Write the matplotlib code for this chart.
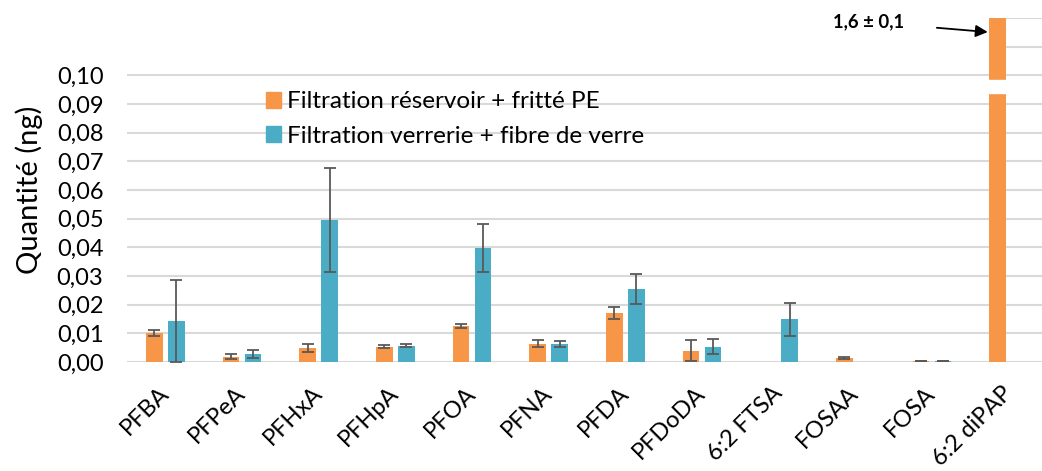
import numpy as np
import matplotlib
matplotlib.use("Agg")
import matplotlib.pyplot as plt
from matplotlib.patches import Patch

plt.rcParams['font.family'] = ['Lato', 'DejaVu Sans']

# data
compounds = ["PFBA", "PFPeA", "PFHxA", "PFHpA", "PFOA", "PFNA", "PFDA",
             "PFDoDA", "6:2 FTSA", "FOSAA", "FOSA", "6:2 diPAP"]
reservoir = [0.0102, 0.0019, 0.0050, 0.0054, 0.0126, 0.0064, 0.0171,
             0.0039, np.nan, 0.0014, 0.0003, 1.6]
reservoir_err = [0.0010, 0.0010, 0.0014, 0.0005, 0.0008, 0.0012, 0.0021,
                 0.0037, np.nan, 0.0005, 0.0001, 0.1]
verrerie = [0.0143, 0.0028, 0.0496, 0.0057, 0.0399, 0.0064, 0.0255,
            0.0054, 0.0149, np.nan, 0.0004, np.nan]
verrerie_err = [0.0144, 0.0013, 0.0181, 0.0006, 0.0084, 0.0011, 0.0053,
                0.0025, 0.0058, np.nan, 0.0001, np.nan]
yticks = [0.00, 0.01, 0.02, 0.03, 0.04, 0.05, 0.06, 0.07, 0.08, 0.09, 0.10]
upper_grid = [0.11, 0.12]
break_lo, break_hi = 0.0937, 0.0983
labels = ["Filtration réservoir + fritté PE", "Filtration verrerie + fibre de verre"]

orange = "#F79646"
blue = "#4BACC6"
err_color = "#595959"
grid_color = "#D9D9D9"

fig = plt.figure(figsize=(10.42, 4.71), dpi=100)
ax = fig.add_axes([0.1219, 0.2314, 0.8829, 0.7304])

x = np.arange(len(compounds))
w = 0.22
off = 0.143

ax.set_xlim(-0.5, len(compounds) - 0.5)
ax.set_ylim(0, 0.12)

# gridlines: full width up to 0.10, only right of the last bar above
ax.hlines(yticks, -0.5, len(compounds) - 0.5, color=grid_color, lw=1.5, zorder=0)
ax.hlines(upper_grid, x[-1] - off + w / 2, len(compounds) - 0.5,
          color=grid_color, lw=1.5, zorder=0)

ax.bar(x - off, reservoir, w, color=orange, zorder=2)
ax.bar(x + off, verrerie, w, color=blue, zorder=2)
ax.errorbar(x - off, reservoir, yerr=reservoir_err, fmt='none', ecolor=err_color,
            elinewidth=1.3, capsize=4, capthick=1.3, zorder=3)
ax.errorbar(x + off, verrerie, yerr=verrerie_err, fmt='none', ecolor=err_color,
            elinewidth=1.3, capsize=4, capthick=1.3, zorder=3)

# axis break on the 6:2 diPAP bar
bx = x[-1] - off
ax.fill_between([bx - w, bx + w], break_lo, break_hi, color='white', zorder=4)

ax.annotate("1,6 ± 0,1", xy=(bx - w / 2 - 0.02, 0.1151), xytext=(9.63, 0.1186),
            ha='right', va='center', fontsize=13.3, fontweight='bold',
            arrowprops=dict(arrowstyle='-|>', color='black', lw=1.3,
                            mutation_scale=18, shrinkA=22, shrinkB=0))

ax.set_yticks(yticks)
ax.set_yticklabels([f"{v:.2f}".replace('.', ',') for v in yticks], fontsize=17)
ax.tick_params(axis='y', length=0, pad=17)
ax.set_xticks(x)
ax.set_xticklabels(compounds, rotation=45, ha='right', va='center',
                   rotation_mode='anchor', fontsize=17)
ax.tick_params(axis='x', length=0, pad=20)
for s in ax.spines.values():
    s.set_visible(False)

ax.set_ylabel("Quantité (ng)", fontsize=21, labelpad=10)

handles = [Patch(color=orange), Patch(color=blue)]
ax.legend(handles, labels, loc='upper left', bbox_to_anchor=(0.14, 0.815),
          frameon=False, fontsize=17.5, handlelength=0.65, handleheight=0.65,
          handletextpad=0.25, labelspacing=0.55, borderaxespad=0)

fig.savefig("out.png", dpi=100)
